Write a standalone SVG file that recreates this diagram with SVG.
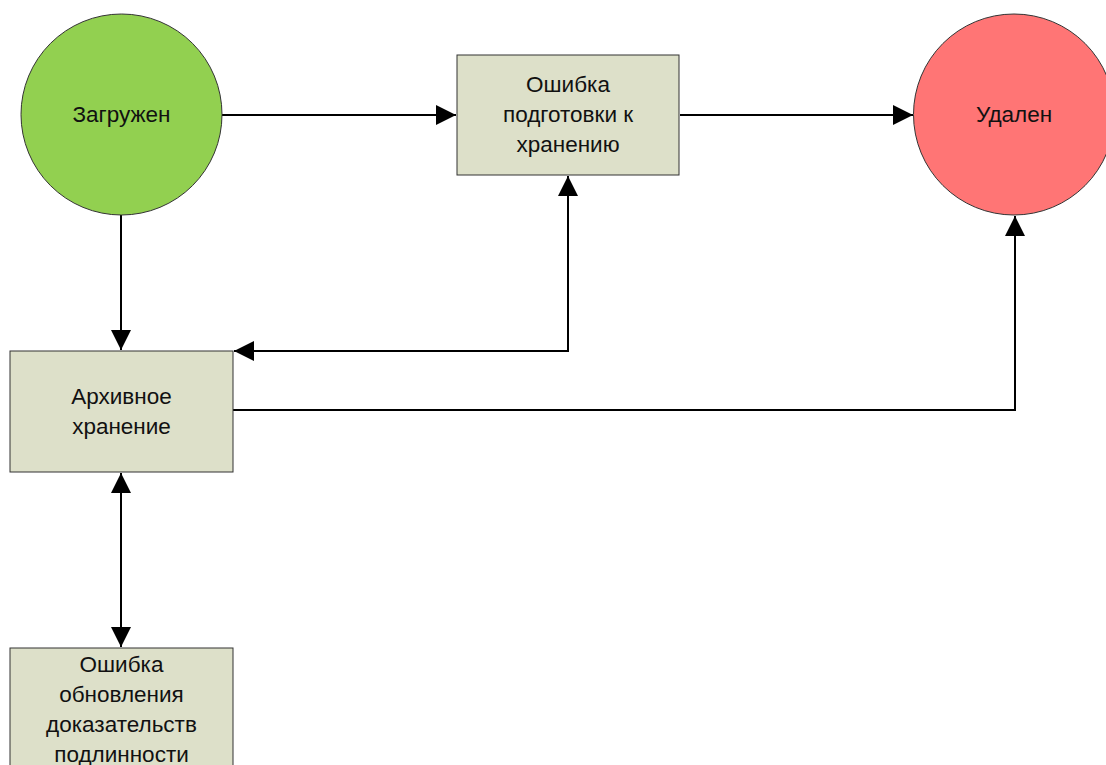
<svg xmlns="http://www.w3.org/2000/svg" width="1106" height="765" viewBox="0 0 1106 765">
<defs>
<style>
.node{stroke:#333;stroke-width:1}
.box{fill:#DDE0C9}
.lbl{font-family:"Liberation Sans",Arial,sans-serif;font-size:22.5px;fill:#111;text-anchor:middle}
.conn{fill:none;stroke:#000;stroke-width:2}
</style>
<marker id="ah" viewBox="0 0 20 20" refX="20" refY="10" markerWidth="20" markerHeight="20" markerUnits="userSpaceOnUse" orient="auto-start-reverse">
<path d="M0,0 L20,10 L0,20 Z" fill="#000"/>
</marker>
</defs>
<rect width="1106" height="765" fill="#fff"/>
<g id="connectors">
<path class="conn" d="M222,115 H456" marker-end="url(#ah)"/>
<path class="conn" d="M680,115 H913" marker-end="url(#ah)"/>
<path class="conn" d="M121,215 V350" marker-end="url(#ah)"/>
<path class="conn" d="M568,176 V351 H234" marker-start="url(#ah)" marker-end="url(#ah)"/>
<path class="conn" d="M233,410 H1015 V216" marker-end="url(#ah)"/>
<path class="conn" d="M121,473 V647" marker-start="url(#ah)" marker-end="url(#ah)"/>
</g>
<g id="n-loaded">
<circle class="node" cx="121.5" cy="114.5" r="100.5" fill="#92D050"/>
<text class="lbl" x="121.5" y="122">Загружен</text>
</g>
<g id="n-prep-error">
<rect class="node box" x="457" y="55" width="222" height="120"/>
<text class="lbl" x="568" y="92">Ошибка</text>
<text class="lbl" x="568" y="122">подготовки к</text>
<text class="lbl" x="568" y="152">хранению</text>
</g>
<g id="n-deleted">
<circle class="node" cx="1014" cy="114.5" r="100.5" fill="#FF7575"/>
<text class="lbl" x="1014" y="122">Удален</text>
</g>
<g id="n-archive">
<rect class="node box" x="10" y="351" width="223" height="121"/>
<text class="lbl" x="121.5" y="404">Архивное</text>
<text class="lbl" x="121.5" y="434">хранение</text>
</g>
<g id="n-auth-error">
<rect class="node box" x="10" y="648" width="223" height="130"/>
<text class="lbl" x="121.5" y="672">Ошибка</text>
<text class="lbl" x="121.5" y="702">обновления</text>
<text class="lbl" x="121.5" y="732">доказательств</text>
<text class="lbl" x="121.5" y="762">подлинности</text>
</g>
</svg>
